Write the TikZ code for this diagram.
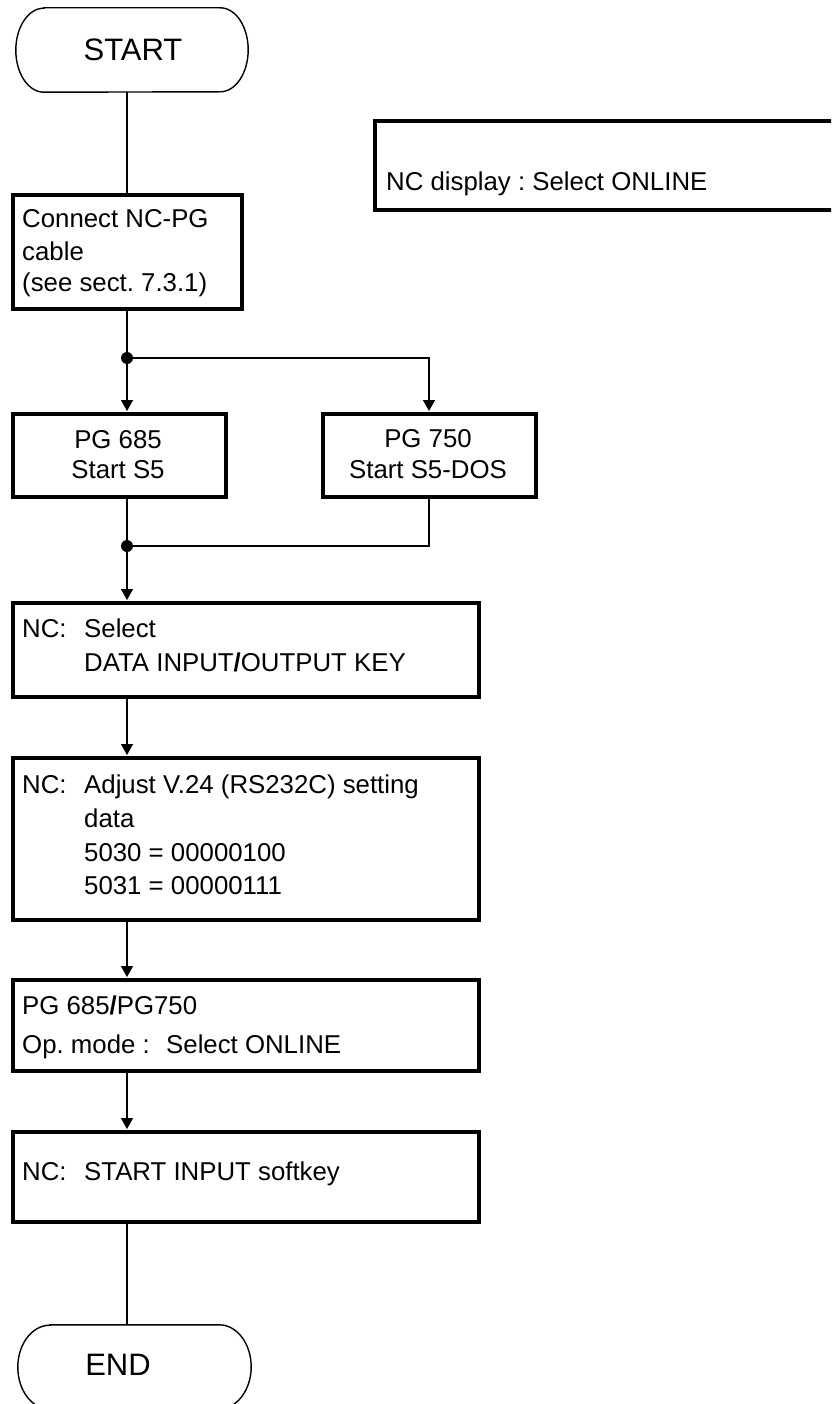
\documentclass[tikz,border=0pt]{standalone}
\usepackage{fontspec}
\setmainfont{Liberation Sans}
\usetikzlibrary{arrows.meta}
\frenchspacing
\newcommand\bodyfont{\fontsize{25.8}{31}\selectfont}
\newcommand\termfont{\fontsize{31}{36}\selectfont}
\newcommand\termshape[2]{%
  \draw[termline] ([xshift=#2]#1.north west) -- ([xshift=-#2]#1.north east)
    arc[start angle=90,end angle=-90,x radius=#2,y radius=42pt]
    -- ([xshift=#2]#1.south west)
    arc[start angle=270,end angle=90,x radius=#2,y radius=42pt] -- cycle;}
\begin{document}
\begin{tikzpicture}[x=1pt,y=1pt,
  box/.style={draw, line width=3.2pt, inner sep=0pt},
  termbox/.style={inner sep=0pt, minimum height=84pt},
  termline/.style={line width=1.4pt},
  conn/.style={line width=1.4pt},
  arr/.style={conn, -{Triangle[length=11pt,width=12pt]}, shorten >=1.4pt},
  txt/.style={inner sep=0pt, font=\bodyfont, anchor=base west},
  ctxt/.style={inner sep=0pt, font=\bodyfont, anchor=base},
  ttxt/.style={inner sep=0pt, font=\termfont, anchor=base}]
\useasboundingbox (0,0) rectangle (831,-1404);
\clip (0,0) rectangle (831,-1404);

% terminators
\node[termbox, minimum width=232pt] (start) at (132,-50) {};
\termshape{start}{28pt}
\node[ttxt] (starttxt) at (133,-61) {START};

\node[termbox, minimum width=233pt] (end) at (134.5,-1367) {};
\termshape{end}{32pt}
\node[ttxt] (endtxt) at (118,-1375) {END};

% boxes
\node[box, minimum width=229pt, minimum height=114pt] (connect) at (127.5,-252) {};
\node[box, minimum width=213pt, minimum height=83pt] (pg685) at (119.5,-455.5) {};
\node[box, minimum width=213pt, minimum height=83pt] (pg750) at (429.5,-455.5) {};
\node[box, minimum width=466pt, minimum height=94pt] (ncsel) at (246,-650) {};
\node[box, minimum width=466pt, minimum height=162pt] (ncadj) at (246,-839) {};
\node[box, minimum width=466pt, minimum height=91pt] (pgpg) at (246,-1025.5) {};
\node[box, minimum width=466pt, minimum height=90pt] (ncstart) at (246,-1177) {};
\node[box, minimum width=525pt, minimum height=89pt] (ncdisp) at (637.5,-165.5) {};

% texts
\node[txt] (c1) at (22,-228) {Connect NC-PG};
\node[txt] (c2) at (22,-261) {cable};
\node[txt] (c3) at (22,-292) {(see sect. 7.3.1)};

\node[ctxt] (p1) at (118,-448) {PG 685};
\node[ctxt] (p2) at (118,-478) {Start S5};
\node[ctxt] (q1) at (428,-447) {PG 750};
\node[ctxt] (q2) at (428,-478) {Start S5-DOS};

\node[txt] (s0) at (22,-637) {NC:};
\node[txt] (s1) at (84,-637) {Select};
\node[txt] (s2) at (84,-671) {DATA INPUT\textbf{/}OUTPUT KEY};

\node[txt] (a0) at (22,-793) {NC:};
\node[txt] (a1) at (84,-793) {Adjust V.24 (RS232C) setting};
\node[txt] (a2) at (84,-827) {data};
\node[txt] (a3) at (84,-861) {5030 = 00000100};
\node[txt] (a4) at (84,-894) {5031 = 00000111};

\node[txt] (g1) at (22,-1014) {PG 685\textbf{/}PG750};
\node[txt] (g2) at (22,-1053) {Op. mode :};
\node[txt] (g3) at (166,-1053) {Select ONLINE};

\node[txt] (n0) at (22,-1180) {NC:};
\node[txt] (n1) at (84,-1180) {START INPUT softkey};

\node[txt] (d1) at (386,-191) {NC display : Select ONLINE};

% junctions
\coordinate (j1) at (127,-358);
\coordinate (j2) at (127,-546);
\coordinate (r1) at (429,-358);
\coordinate (r2) at (429,-546);

% connectors
\draw[conn] (start.south -| j1) -- (connect.north -| j1);
\draw[conn] (connect.south -| j1) -- (j1);
\draw[arr] (j1) -- (pg685.north -| j1);
\draw[arr] (j1) -- (r1) -- (pg750.north -| r1);
\draw[conn] (pg685.south -| j1) -- (j2);
\draw[conn] (pg750.south -| r2) -- (r2) -- (j2);
\draw[arr] (j2) -- (ncsel.north -| j2);
\draw[arr] (ncsel.south -| j1) -- (ncadj.north -| j1);
\draw[arr] (ncadj.south -| j1) -- (pgpg.north -| j1);
\draw[arr] (pgpg.south -| j1) -- (ncstart.north -| j1);
\draw[conn] (ncstart.south -| j1) -- (end.north -| j1);
\fill (j1) circle (6pt);
\fill (j2) circle (6pt);
\end{tikzpicture}
\end{document}
